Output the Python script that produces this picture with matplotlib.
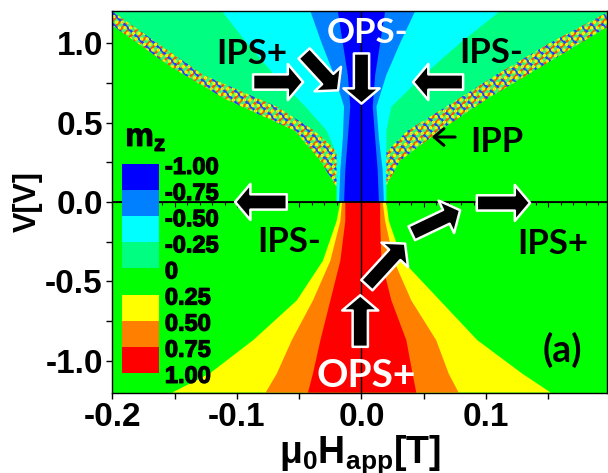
import numpy as np
import matplotlib
matplotlib.use("Agg")
import matplotlib.pyplot as plt
import matplotlib.patheffects as pe
from matplotlib.patches import Polygon, Rectangle
from matplotlib.ticker import MultipleLocator, FixedLocator, FormatStrFormatter, NullFormatter

# Axis ticks
h_ticks = [-0.2, -0.1, 0.0, 0.1]
v_ticks = [-1.0, -0.5, 0.0, 0.5, 1.0]

# m_z colour scale
mz_labels = ["-1.00", "-0.75", "-0.50", "-0.25", "0", "0.25", "0.50", "0.75", "1.00"]
mz_colors = ["#0000FF", "#0080FF", "#00FFFF", "#00FF80",
             "#00FF00", "#FFFF00", "#FF8000", "#FF0000"]

# Region boundaries: voltage levels V and the
# field mu0*H [T] of the boundary on the negative / positive side
ipp_outer_v = [1.2, 1.1, 0.85, 0.65, 0.45, 0.26, 0.09, 0.03]
ipp_outer_left = [-0.215, -0.198, -0.153, -0.110, -0.054, -0.033, -0.020, -0.017]
ipp_outer_right = [0.220, 0.197, 0.144, 0.101, 0.063, 0.031, 0.019, 0.017]

ipp_inner_v = [1.2, 1.0, 0.8, 0.6, 0.45, 0.3]
ipp_inner_left = [-0.200, -0.164, -0.127, -0.068, -0.038, -0.017]
ipp_inner_right = [0.199, 0.151, 0.108, 0.068, 0.037, 0.018]

cyan_v = [1.2, 1.0, 0.8, 0.6, 0.45, 0.3, 0.0]
cyan_left = [-0.112, -0.092, -0.070, -0.045, -0.028, -0.020, -0.020]
cyan_right = [0.111, 0.079, 0.050, 0.024, 0.020, 0.020, 0.020]

core_v = [1.2, 1.0, 0.8, 0.6, 0.4, 0.2, 0.0]
midblue_left = [-0.041, -0.032, -0.022, -0.014, -0.015, -0.017, -0.018]
midblue_right = [0.043, 0.031, 0.020, 0.012, 0.014, 0.017, 0.018]
blue_left = [-0.019, -0.015, -0.011, -0.009, -0.011, -0.013, -0.014]
blue_right = [0.019, 0.015, 0.011, 0.009, 0.011, 0.013, 0.014]

low_v = [0.0, -0.12, -0.37, -0.62, -0.87, -1.08, -1.2]
yellow_left = [-0.017, -0.020, -0.031, -0.052, -0.087, -0.122, -0.152]
yellow_right = [0.020, 0.022, 0.033, 0.063, 0.093, 0.129, 0.152]
orange_left = [-0.0156, -0.017, -0.025, -0.039, -0.056, -0.068, -0.077]
orange_right = [0.017, 0.019, 0.026, 0.040, 0.060, 0.070, 0.078]
red_left = [-0.013, -0.013, -0.017, -0.025, -0.033, -0.039, -0.043]
red_right = [0.015, 0.015, 0.016, 0.024, 0.036, 0.041, 0.044]

# Phase labels
phase_names = ["IPS+", "OPS-", "IPS-", "IPP", "IPS-", "IPS+", "OPS+"]
phase_h = [-0.088, 0.0045, 0.104, 0.1085, -0.058, 0.154, 0.004]
phase_v = [0.870, 0.998, 0.872, 0.314, -0.314, -0.325, -1.164]


def region(v, left, right):
    # closed outline: down the left boundary, back up the right one
    xs = list(left) + list(right)[::-1]
    ys = list(v) + list(v)[::-1]
    return np.column_stack([xs, ys])


plt.rcParams["font.family"] = ["Liberation Sans", "DejaVu Sans"]
plt.rcParams["font.weight"] = "bold"
plt.rcParams["axes.unicode_minus"] = False
plt.rcParams["mathtext.fontset"] = "custom"
plt.rcParams["mathtext.bf"] = "Liberation Sans:bold"
plt.rcParams["mathtext.rm"] = "Liberation Sans:bold"
plt.rcParams["mathtext.it"] = "Liberation Sans:bold"
plt.rcParams["hatch.linewidth"] = 1.6

fig = plt.figure(figsize=(6.08, 4.73), dpi=100)
ax = fig.add_axes([0.185, 0.170, 0.813, 0.806])
ax.set_facecolor("#00FF00")

# IPP band (noisy precessional region) drawn as a base fill plus hatching
ipp = region(ipp_outer_v, ipp_outer_left, ipp_outer_right)
ax.add_patch(Polygon(ipp, closed=True, fc="#40F070", ec="none", zorder=1))
ax.add_patch(Polygon(ipp, closed=True, fill=False, hatch="////", ec="#FF5000", lw=0, zorder=1))
ax.add_patch(Polygon(ipp, closed=True, fill=False, hatch="\\\\\\", ec="#2040FF", lw=0, zorder=1))
ax.add_patch(Polygon(ipp, closed=True, fill=False, hatch="...", ec="#FFFF00", lw=0, zorder=1))

# upper half: out-of-plane negative states
ax.add_patch(Polygon(region(ipp_inner_v, ipp_inner_left, ipp_inner_right),
                     closed=True, fc=mz_colors[3], ec="none", zorder=1))
ax.add_patch(Polygon(region(cyan_v, cyan_left, cyan_right),
                     closed=True, fc=mz_colors[2], ec="none", zorder=1))
ax.add_patch(Polygon(region(core_v, midblue_left, midblue_right),
                     closed=True, fc=mz_colors[1], ec="none", zorder=1))
ax.add_patch(Polygon(region(core_v, blue_left, blue_right),
                     closed=True, fc=mz_colors[0], ec="none", zorder=1))

# lower half: out-of-plane positive states
ax.add_patch(Polygon(region(low_v, yellow_left, yellow_right),
                     closed=True, fc=mz_colors[5], ec="none", zorder=1))
ax.add_patch(Polygon(region(low_v, orange_left, orange_right),
                     closed=True, fc=mz_colors[6], ec="none", zorder=1))
ax.add_patch(Polygon(region(low_v, red_left, red_right),
                     closed=True, fc=mz_colors[7], ec="none", zorder=1))

# zero lines
ax.axhline(0, color="black", lw=1.3, zorder=3)
ax.axvline(0, color="black", lw=1.0, zorder=3)
mid = ax.secondary_xaxis(0.5)
mid.xaxis.set_major_locator(MultipleLocator(0.05))
mid.xaxis.set_minor_locator(MultipleLocator(0.01))
mid.xaxis.set_major_formatter(NullFormatter())
mid.xaxis.set_minor_formatter(NullFormatter())
mid.tick_params(which="both", direction="in", labelbottom=False, labeltop=False, width=0.8)
mid.tick_params(which="major", length=3.5)
mid.tick_params(which="minor", length=2)
mid.spines["bottom"].set_visible(False)

# block arrows (tail -> tip)
fat = dict(arrowstyle="simple,head_length=0.55,head_width=1.3,tail_width=0.55",
           fc="black", ec="white", lw=1.8, shrinkA=0, shrinkB=0, mutation_scale=20)
arrows = [((-0.0871, 0.755), (-0.0469, 0.755)),
          ((-0.0461, 0.935), (-0.0188, 0.703)),
          ((0.0, 0.935), (0.0, 0.619)),
          ((0.0816, 0.755), (0.0414, 0.755)),
          ((-0.060, 0.0), (-0.1015, 0.0)),
          ((0.0926, -0.006), (0.1354, -0.006)),
          ((0.0404, -0.197), (0.0792, -0.052)),
          ((0.0043, -0.524), (0.035, -0.262)),
          ((-0.001, -0.912), (-0.001, -0.587))]
for tail, tip in arrows:
    ax.annotate("", xy=tip, xytext=tail, arrowprops=fat, zorder=4)

# thin pointer to the IPP band
ax.annotate("", xy=(0.0565, 0.409), xytext=(0.0752, 0.409), zorder=4,
            arrowprops=dict(arrowstyle="->,head_length=0.35,head_width=0.3",
                            color="black", lw=2.2, shrinkA=0, shrinkB=0,
                            mutation_scale=20))

for name, h, v in zip(phase_names, phase_h, phase_v):
    white = name.startswith("OPS")
    ax.text(h, v, name, ha="center", va="baseline", family="Lato", weight="bold",
            fontsize=28 if name == "OPS+" else 25,
            color="white" if white else "black", zorder=5)
ax.text(0.1615, -1.006, "(a)", ha="center", va="baseline", family="Lato",
        weight="bold", fontsize=27, zorder=5)

# embedded colour scale
box_top, box_h = 0.5996, 0.0685
for i, c in enumerate(mz_colors):
    ax.add_patch(Rectangle((0.019, box_top - (i + 1) * box_h), 0.075, box_h,
                           transform=ax.transAxes, fc=c, ec="none", zorder=5))
thick = [pe.withStroke(linewidth=0.9, foreground="black")]
for i, lab in enumerate(mz_labels):
    ax.text(0.106, box_top - i * box_h - 0.009, lab, transform=ax.transAxes,
            ha="left", va="center", fontsize=17, fontweight="bold",
            family="Liberation Sans", path_effects=thick, zorder=5)
ax.text(0.026, 0.668, r"$\mathbf{m_z}$", transform=ax.transAxes,
        ha="left", va="center", fontsize=23, path_effects=thick, zorder=5)

ax.set_xlim(-0.2, 0.197)
ax.set_ylim(-1.2, 1.2)
ax.xaxis.set_major_locator(FixedLocator(h_ticks))
ax.xaxis.set_minor_locator(MultipleLocator(0.05))
ax.yaxis.set_major_locator(FixedLocator(v_ticks))
ax.yaxis.set_minor_locator(MultipleLocator(0.25))
ax.xaxis.set_major_formatter(FormatStrFormatter("%.1f"))
ax.yaxis.set_major_formatter(FormatStrFormatter("%.1f"))
ax.tick_params(which="both", direction="out", length=4, width=1, labelsize=24, pad=3)
for s in ax.spines.values():
    s.set_linewidth(1.0)
    s.set_zorder(6)

ax.set_xlabel(r"$\mathbf{\mu_0H_{app}[T]}$", fontsize=27, labelpad=0)
ax.set_ylabel("V[V]", fontsize=22, fontweight="bold", labelpad=2)

fig.savefig("out.png", dpi=100)
